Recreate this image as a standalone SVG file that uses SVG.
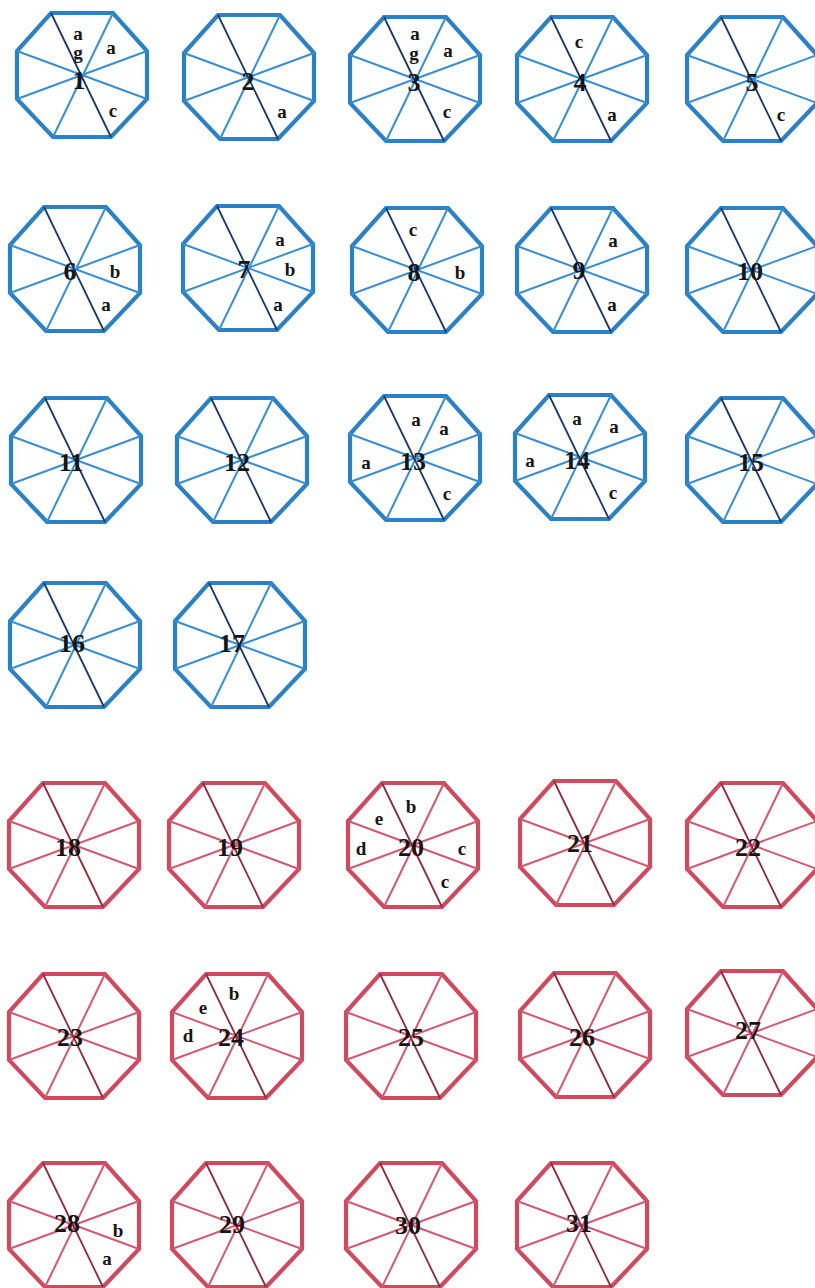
<svg xmlns="http://www.w3.org/2000/svg" xmlns:xlink="http://www.w3.org/1999/xlink" width="815" height="1288" viewBox="0 0 815 1288">
<defs>
<style>
.bo{fill:none;stroke:#2b80c6;stroke-width:4.2;stroke-linejoin:miter}
.bs{stroke:#3a8ed0;stroke-width:2}
.bd{stroke:#1c3766;stroke-width:1.8}
.ro{fill:none;stroke:#cf4a5f;stroke-width:4.2;stroke-linejoin:miter}
.rs{stroke:#d05a72;stroke-width:2}
.rd{stroke:#8a2c40;stroke-width:1.8}
.n{font-family:"Liberation Serif",serif;font-weight:bold;font-size:26px;fill:#151515;text-anchor:middle;dominant-baseline:central}
.l{font-family:"Liberation Serif",serif;font-weight:bold;font-size:19px;fill:#151515;text-anchor:middle;dominant-baseline:central}
</style>
<g id="blueOct">
<polygon class="bo" points="-31,-62 31,-62 65,-24 65,24 29,62 -29,62 -65,24 -65,-24"/>
<line class="bs" x1="31" y1="-62" x2="-29" y2="62"/>
<line class="bs" x1="65" y1="-24" x2="-65" y2="24"/>
<line class="bs" x1="65" y1="24" x2="-65" y2="-24"/>
<line class="bd" x1="-31" y1="-62" x2="29" y2="62"/>
</g>
<g id="redOct">
<polygon class="ro" points="-31,-62 31,-62 65,-24 65,24 29,62 -29,62 -65,24 -65,-24"/>
<line class="rs" x1="31" y1="-62" x2="-29" y2="62"/>
<line class="rs" x1="65" y1="-24" x2="-65" y2="24"/>
<line class="rs" x1="65" y1="24" x2="-65" y2="-24"/>
<line class="rd" x1="-31" y1="-62" x2="29" y2="62"/>
</g>
</defs>
<rect width="815" height="1288" fill="#ffffff"/>
<g id="connectors"></g>

<g id="n1"><use xlink:href="#blueOct" x="82" y="75"/><text class="n" x="79" y="80">1</text><text class="l" x="78" y="33">a</text><text class="l" x="78" y="52">g</text><text class="l" x="111" y="47">a</text><text class="l" x="113" y="110">c</text></g>
<g id="n2"><use xlink:href="#blueOct" x="249" y="77"/><text class="n" x="248" y="81">2</text><text class="l" x="282" y="111">a</text></g>
<g id="n3"><use xlink:href="#blueOct" x="415" y="79"/><text class="n" x="414" y="82">3</text><text class="l" x="415" y="33">a</text><text class="l" x="414" y="53">g</text><text class="l" x="448" y="50">a</text><text class="l" x="447" y="111">c</text></g>
<g id="n4"><use xlink:href="#blueOct" x="582" y="79"/><text class="n" x="580" y="82">4</text><text class="l" x="579" y="41">c</text><text class="l" x="612" y="114">a</text></g>
<g id="n5"><use xlink:href="#blueOct" x="752" y="79"/><text class="n" x="752" y="82">5</text><text class="l" x="781" y="114">c</text></g>

<g id="n6"><use xlink:href="#blueOct" x="75" y="269"/><text class="n" x="70" y="271">6</text><text class="l" x="115" y="271">b</text><text class="l" x="106" y="304">a</text></g>
<g id="n7"><use xlink:href="#blueOct" x="248" y="268"/><text class="n" x="244" y="269">7</text><text class="l" x="280" y="239">a</text><text class="l" x="290" y="269">b</text><text class="l" x="278" y="304">a</text></g>
<g id="n8"><use xlink:href="#blueOct" x="417" y="270"/><text class="n" x="414" y="272">8</text><text class="l" x="413" y="229">c</text><text class="l" x="460" y="272">b</text></g>
<g id="n9"><use xlink:href="#blueOct" x="582" y="270"/><text class="n" x="579" y="270">9</text><text class="l" x="613" y="240">a</text><text class="l" x="612" y="304">a</text></g>
<g id="n10"><use xlink:href="#blueOct" x="752" y="270"/><text class="n" x="750" y="271">10</text></g>

<g id="n11"><use xlink:href="#blueOct" x="76" y="460"/><text class="n" x="71" y="462">11</text></g>
<g id="n12"><use xlink:href="#blueOct" x="242" y="460"/><text class="n" x="237" y="462">12</text></g>
<g id="n13"><use xlink:href="#blueOct" x="415" y="458"/><text class="n" x="413" y="461">13</text><text class="l" x="416" y="419">a</text><text class="l" x="444" y="428">a</text><text class="l" x="366" y="462">a</text><text class="l" x="447" y="493">c</text></g>
<g id="n14"><use xlink:href="#blueOct" x="580" y="457"/><text class="n" x="577" y="460">14</text><text class="l" x="577" y="418">a</text><text class="l" x="614" y="426">a</text><text class="l" x="530" y="460">a</text><text class="l" x="613" y="492">c</text></g>
<g id="n15"><use xlink:href="#blueOct" x="752" y="460"/><text class="n" x="751" y="462">15</text></g>

<g id="n16"><use xlink:href="#blueOct" x="75" y="645"/><text class="n" x="72" y="643">16</text></g>
<g id="n17"><use xlink:href="#blueOct" x="240" y="645"/><text class="n" x="232" y="643">17</text></g>

<g id="n18"><use xlink:href="#redOct" x="74" y="845"/><text class="n" x="68" y="847">18</text></g>
<g id="n19"><use xlink:href="#redOct" x="234" y="845"/><text class="n" x="230" y="847">19</text></g>
<g id="n20"><use xlink:href="#redOct" x="413" y="845"/><text class="n" x="411" y="847">20</text><text class="l" x="411" y="806">b</text><text class="l" x="379" y="818">e</text><text class="l" x="361" y="848">d</text><text class="l" x="462" y="848">c</text><text class="l" x="445" y="881">c</text></g>
<g id="n21"><use xlink:href="#redOct" x="585" y="843"/><text class="n" x="580" y="843">21</text></g>
<g id="n22"><use xlink:href="#redOct" x="752" y="845"/><text class="n" x="748" y="847">22</text></g>

<g id="n23"><use xlink:href="#redOct" x="74" y="1036"/><text class="n" x="70" y="1037">23</text></g>
<g id="n24"><use xlink:href="#redOct" x="237" y="1036"/><text class="n" x="231" y="1037">24</text><text class="l" x="234" y="993">b</text><text class="l" x="203" y="1007">e</text><text class="l" x="188" y="1035">d</text></g>
<g id="n25"><use xlink:href="#redOct" x="411" y="1036"/><text class="n" x="411" y="1037">25</text></g>
<g id="n26"><use xlink:href="#redOct" x="585" y="1035"/><text class="n" x="582" y="1037">26</text></g>
<g id="n27"><use xlink:href="#redOct" x="752" y="1033"/><text class="n" x="748" y="1030">27</text></g>

<g id="n28"><use xlink:href="#redOct" x="74" y="1225"/><text class="n" x="67" y="1223">28</text><text class="l" x="118" y="1230">b</text><text class="l" x="107" y="1258">a</text></g>
<g id="n29"><use xlink:href="#redOct" x="237" y="1225"/><text class="n" x="232" y="1224">29</text></g>
<g id="n30"><use xlink:href="#redOct" x="411" y="1225"/><text class="n" x="408" y="1225">30</text></g>
<g id="n31"><use xlink:href="#redOct" x="582" y="1225"/><text class="n" x="579" y="1223">31</text></g>
</svg>
